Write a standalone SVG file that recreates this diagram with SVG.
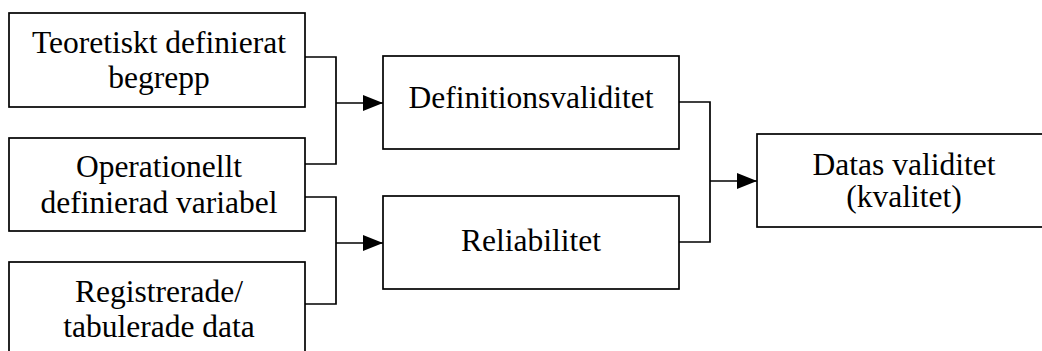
<svg xmlns="http://www.w3.org/2000/svg" width="1042" height="351" viewBox="0 0 1042 351">
<style>
.box{fill:#fff;stroke:#000;stroke-width:1.7}
.t{font-family:"Liberation Serif","Times New Roman",serif;font-size:31.5px;fill:#000;text-anchor:middle}
.c{fill:none;stroke:#000;stroke-width:1.7}
</style>
<defs>
<marker id="ah" markerWidth="20" markerHeight="16" refX="20" refY="8" orient="auto" markerUnits="userSpaceOnUse">
<path d="M0,0 L20,8 L0,16 Z" fill="#000"/>
</marker>
</defs>
<rect width="1042" height="351" fill="#fff"/>
<g id="n1"><rect class="box" x="9" y="13" width="296" height="94"/>
<text class="t" x="159" y="53">Teoretiskt definierat</text><text class="t" x="159" y="88">begrepp</text></g>
<g id="n2"><rect class="box" x="9" y="138" width="296" height="93"/>
<text class="t" x="159" y="177">Operationellt</text><text class="t" x="159" y="213">definierad variabel</text></g>
<g id="n3"><rect class="box" x="9" y="262" width="296" height="100"/>
<text class="t" x="159" y="302">Registrerade/</text><text class="t" x="159" y="337">tabulerade data</text></g>
<g id="n4"><rect class="box" x="383" y="56" width="296" height="93"/>
<text class="t" x="531" y="108">Definitionsvaliditet</text></g>
<g id="n5"><rect class="box" x="383" y="196" width="296" height="93"/>
<text class="t" x="531" y="251">Reliabilitet</text></g>
<g id="n6"><rect class="box" x="757" y="134" width="296" height="93"/>
<text class="t" x="904" y="175">Datas validitet</text><text class="t" x="904" y="207">(kvalitet)</text></g>
<g id="connectors">
<path class="c" d="M305,57 H336 V164 H305"/>
<path class="c" d="M336,103 H383" marker-end="url(#ah)"/>
<path class="c" d="M305,197 H336 V304 H305"/>
<path class="c" d="M336,243 H383" marker-end="url(#ah)"/>
<path class="c" d="M679,102 H710 V242 H679"/>
<path class="c" d="M710,181 H757" marker-end="url(#ah)"/>
</g>
</svg>
